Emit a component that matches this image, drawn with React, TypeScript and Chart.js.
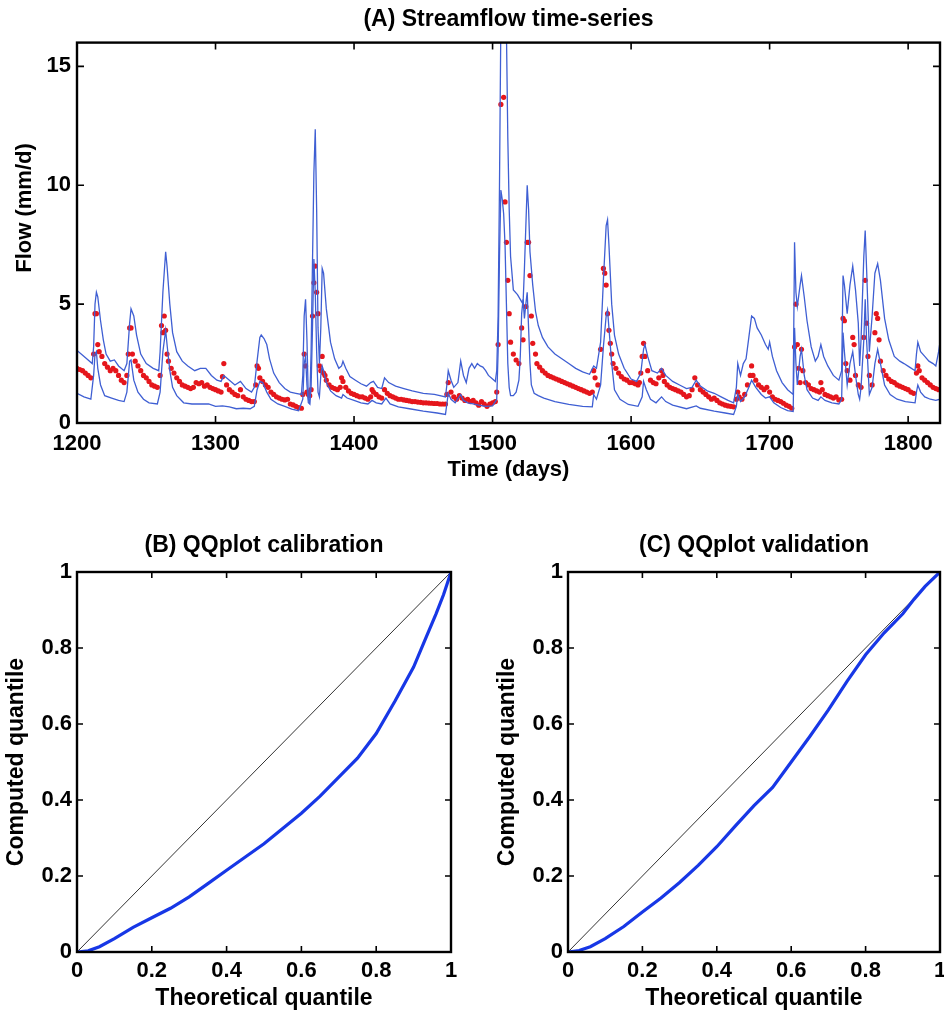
import React, { useEffect, useRef } from 'react';
import { Chart, registerables } from 'chart.js';

Chart.register(...registerables);

const FONT = '"Liberation Sans", Arial, Helvetica, sans-serif';
const BLUE_BAND = '#3f5fd3';
const RED_OBS = '#e5161c';
const BLUE_QQ = '#1737e6';

// ---------- Panel A data ----------
const timeTicks = [1200, 1300, 1400, 1500, 1600, 1700, 1800];
const flowTicks = [0, 5, 10, 15];

// [day, flow mm/d]
const upperBound: [number, number][] = [
  [1200, 3.05], [1203, 2.9], [1207, 2.7], [1211, 2.5], [1212, 3.2], [1213, 5.0], [1214, 5.5], [1215, 5.3], [1217, 4.3], [1219, 3.5],
  [1221, 2.9], [1224, 2.6], [1227, 2.65], [1230, 2.4], [1234, 2.2], [1236, 2.5], [1238, 4.2], [1239, 4.8], [1241, 4.5], [1243, 3.7],
  [1246, 2.9], [1250, 2.5], [1255, 2.3], [1259, 2.2], [1260, 3.0], [1262, 5.5], [1264, 7.2], [1265, 6.6], [1267, 5.0], [1269, 3.8],
  [1272, 3.0], [1276, 2.6], [1280, 2.4], [1285, 2.2], [1289, 2.3], [1293, 2.3], [1297, 2.0], [1301, 1.8], [1304, 1.75], [1306, 2.0],
  [1310, 1.8], [1314, 1.6], [1318, 1.75], [1322, 1.45], [1326, 1.3], [1328, 1.5], [1330, 2.6], [1332, 3.6], [1333, 3.7], [1335, 3.55],
  [1337, 3.3], [1339, 2.7], [1342, 2.1], [1346, 1.7], [1350, 1.45], [1354, 1.3], [1358, 1.25], [1362, 1.2], [1363, 2.0], [1364, 4.5],
  [1365, 5.2], [1366, 3.5], [1367, 1.0], [1368, 0.85], [1369, 3.0], [1371, 10.5], [1372, 12.35], [1373, 9.0], [1374, 4.0], [1375, 2.5],
  [1376, 4.0], [1377, 6.5], [1378, 6.3], [1380, 4.8], [1383, 3.4], [1386, 2.7], [1389, 2.3], [1391, 2.4], [1392, 2.6], [1394, 2.3],
  [1397, 1.95], [1401, 1.8], [1405, 1.65], [1409, 1.55], [1412, 1.7], [1414, 1.75], [1417, 1.5], [1420, 1.45], [1422, 1.9], [1425, 1.7],
  [1430, 1.55], [1436, 1.45], [1442, 1.35], [1450, 1.25], [1458, 1.2], [1466, 1.1], [1467, 1.6], [1468, 2.2], [1470, 1.8], [1472, 1.5],
  [1475, 1.7], [1477, 2.6], [1479, 2.0], [1481, 1.7], [1483, 2.3], [1485, 2.5], [1487, 2.3], [1489, 2.5], [1491, 2.4], [1493, 2.35],
  [1495, 2.2], [1497, 2.0], [1500, 1.85], [1502, 1.75], [1503, 2.2], [1504, 4.5], [1505, 10.0], [1506, 17.0], [1508, 18.0], [1510, 16.5],
  [1511, 12.0], [1512, 9.0], [1513, 7.0], [1515, 5.6], [1518, 5.4], [1520, 5.2], [1522, 5.0], [1523, 6.5], [1525, 10.0], [1526, 9.0],
  [1527, 7.2], [1529, 5.8], [1531, 4.7], [1533, 4.1], [1536, 3.6], [1540, 3.2], [1545, 2.9], [1550, 2.7], [1555, 2.5], [1560, 2.3],
  [1565, 2.15], [1570, 2.05], [1573, 2.4], [1575, 2.3], [1578, 3.4], [1580, 6.0], [1582, 8.3], [1583, 8.55], [1584, 7.5], [1586, 5.0],
  [1588, 3.7], [1591, 2.9], [1595, 2.3], [1600, 1.85], [1604, 1.75], [1607, 2.1], [1609, 3.1], [1610, 3.3], [1612, 2.8], [1615, 2.2],
  [1619, 2.1], [1622, 2.3], [1625, 2.0], [1630, 1.75], [1635, 1.6], [1640, 1.45], [1644, 1.5], [1647, 1.8], [1650, 1.55], [1655, 1.35],
  [1660, 1.25], [1665, 1.1], [1670, 0.95], [1674, 0.85], [1676, 1.5], [1677, 2.5], [1679, 2.0], [1681, 2.5], [1683, 2.7], [1685, 3.6],
  [1687, 4.5], [1689, 4.4], [1691, 4.0], [1694, 3.7], [1697, 3.3], [1699, 3.1], [1700, 3.4], [1702, 2.8], [1705, 2.2], [1709, 1.7],
  [1713, 1.4], [1717, 1.2], [1718, 7.6], [1719, 5.5], [1720, 4.9], [1722, 5.8], [1723, 6.2], [1725, 5.3], [1727, 4.3], [1730, 3.2],
  [1733, 2.6], [1735, 2.8], [1737, 3.3], [1739, 2.8], [1742, 2.4], [1746, 2.0], [1750, 1.8], [1752, 2.2], [1753, 6.2], [1754, 5.8],
  [1756, 4.6], [1758, 5.8], [1760, 6.6], [1762, 5.6], [1764, 4.2], [1765, 2.4], [1766, 3.5], [1768, 7.0], [1769, 8.1], [1770, 6.5],
  [1772, 3.0], [1774, 4.5], [1776, 6.3], [1778, 6.7], [1780, 6.0], [1783, 4.4], [1786, 3.5], [1790, 2.8], [1794, 2.6], [1797, 2.5],
  [1801, 2.35], [1805, 2.2], [1806, 2.9], [1807, 3.4], [1809, 3.0], [1812, 2.8], [1815, 2.6], [1818, 2.5], [1820, 2.4], [1822, 3.0],
  [1823, 3.4],
];

const lowerBound: [number, number][] = [
  [1200, 1.25], [1205, 1.1], [1210, 1.0], [1212, 2.0], [1213, 2.9], [1214, 3.0], [1215, 2.3], [1217, 1.6], [1220, 1.15], [1225, 1.05],
  [1230, 0.95], [1234, 0.9], [1236, 1.3], [1238, 2.6], [1239, 2.65], [1241, 1.8], [1244, 1.3], [1248, 1.0], [1252, 0.85], [1258, 0.8],
  [1260, 1.3], [1262, 3.0], [1264, 3.9], [1265, 3.3], [1267, 2.2], [1269, 1.5], [1272, 1.15], [1277, 0.85], [1283, 0.8], [1290, 0.8],
  [1295, 0.8], [1300, 0.7], [1305, 0.72], [1310, 0.68], [1315, 0.6], [1320, 0.62], [1325, 0.6], [1328, 0.7], [1330, 1.4], [1332, 1.75],
  [1334, 1.7], [1337, 1.3], [1340, 1.0], [1345, 0.8], [1350, 0.7], [1355, 0.58], [1360, 0.52], [1363, 1.0], [1364, 2.5], [1365, 2.8],
  [1366, 1.6], [1367, 0.85], [1368, 0.8], [1369, 1.5], [1370, 4.0], [1371, 6.9], [1372, 5.5], [1373, 3.0], [1374, 1.3], [1375, 1.1],
  [1376, 2.0], [1377, 2.4], [1378, 2.2], [1380, 1.7], [1383, 1.35], [1387, 1.15], [1391, 1.05], [1392, 1.2], [1395, 1.05], [1400, 0.95],
  [1405, 0.85], [1410, 0.8], [1413, 0.95], [1416, 0.85], [1420, 0.8], [1423, 1.05], [1426, 0.8], [1432, 0.68], [1440, 0.6], [1450, 0.5],
  [1460, 0.42], [1466, 0.36], [1467, 0.8], [1468, 1.25], [1470, 1.0], [1473, 0.85], [1477, 1.2], [1479, 0.95], [1482, 0.85], [1486, 0.8],
  [1490, 0.75], [1495, 0.7], [1500, 0.72], [1503, 1.0], [1504, 3.0], [1505, 7.0], [1506, 9.8], [1507, 9.4], [1508, 8.8], [1509, 7.5],
  [1510, 5.0], [1511, 2.5], [1512, 1.5], [1513, 1.15], [1515, 1.15], [1517, 1.3], [1519, 1.8], [1520, 2.8], [1521, 4.6], [1522, 5.2],
  [1523, 4.4], [1524, 5.0], [1525, 5.5], [1526, 4.0], [1527, 2.5], [1528, 1.6], [1530, 1.25], [1533, 1.15], [1537, 1.05], [1545, 0.9],
  [1555, 0.78], [1565, 0.7], [1572, 0.68], [1573, 1.2], [1575, 1.0], [1578, 1.6], [1580, 3.2], [1582, 4.5], [1583, 4.75], [1584, 4.0],
  [1586, 2.5], [1588, 1.4], [1592, 1.0], [1598, 0.78], [1605, 0.7], [1608, 1.1], [1609, 1.75], [1611, 1.4], [1614, 1.0], [1618, 0.85],
  [1622, 1.1], [1625, 0.9], [1630, 0.75], [1640, 0.6], [1647, 0.72], [1650, 0.62], [1660, 0.5], [1668, 0.42], [1674, 0.36], [1676, 0.7],
  [1677, 1.2], [1679, 0.9], [1682, 1.1], [1685, 1.5], [1687, 1.8], [1690, 1.5], [1694, 1.2], [1697, 1.05], [1700, 1.1], [1703, 0.85],
  [1708, 0.65], [1713, 0.52], [1717, 0.48], [1718, 4.0], [1719, 2.5], [1720, 1.6], [1722, 2.8], [1723, 3.1], [1725, 2.0], [1727, 1.4],
  [1731, 1.05], [1735, 0.95], [1737, 1.1], [1740, 0.95], [1745, 0.85], [1750, 0.8], [1752, 1.0], [1753, 3.8], [1754, 3.0], [1756, 1.6],
  [1758, 2.5], [1760, 3.0], [1762, 2.0], [1764, 1.2], [1765, 1.0], [1766, 1.5], [1768, 3.5], [1769, 5.2], [1770, 3.5], [1772, 1.2],
  [1774, 1.5], [1776, 2.5], [1778, 3.1], [1780, 2.5], [1783, 1.6], [1787, 1.2], [1792, 1.0], [1798, 0.9], [1805, 0.85], [1806, 1.3],
  [1807, 1.6], [1809, 1.3], [1812, 1.1], [1816, 1.0], [1820, 0.95], [1823, 1.0],
];

const observedFlow: [number, number][] = [
  [1200, 2.3], [1202, 2.25], [1204, 2.2], [1206, 2.1], [1208, 2.0], [1210, 1.9], [1212, 2.9], [1213, 4.6], [1214, 4.6], [1215, 3.3],
  [1216, 3.0], [1218, 2.8], [1220, 2.5], [1222, 2.35], [1224, 2.2], [1226, 2.3], [1228, 2.2], [1230, 2.0], [1232, 1.8], [1234, 1.7],
  [1236, 2.0], [1237, 2.9], [1238, 4.0], [1239, 4.0], [1240, 2.9], [1242, 2.6], [1244, 2.4], [1246, 2.2], [1248, 2.0], [1250, 1.9],
  [1252, 1.75], [1254, 1.6], [1256, 1.55], [1258, 1.5], [1260, 2.0], [1261, 4.1], [1262, 3.8], [1263, 4.5], [1264, 3.9], [1265, 2.9],
  [1266, 2.6], [1268, 2.3], [1270, 2.1], [1272, 1.9], [1274, 1.75], [1276, 1.6], [1278, 1.55], [1280, 1.5], [1282, 1.45], [1284, 1.5],
  [1286, 1.7], [1288, 1.65], [1290, 1.7], [1292, 1.55], [1294, 1.6], [1296, 1.5], [1298, 1.45], [1300, 1.4], [1302, 1.35], [1304, 1.3],
  [1305, 1.95], [1306, 2.5], [1308, 1.6], [1310, 1.4], [1312, 1.3], [1314, 1.2], [1316, 1.15], [1318, 1.4], [1320, 1.1], [1322, 1.0],
  [1324, 0.95], [1326, 0.9], [1328, 0.9], [1329, 1.6], [1330, 2.4], [1331, 2.3], [1332, 1.9], [1334, 1.75], [1336, 1.6], [1338, 1.5],
  [1340, 1.3], [1342, 1.2], [1344, 1.1], [1346, 1.05], [1348, 1.0], [1350, 0.97], [1352, 1.0], [1354, 0.8], [1356, 0.76], [1358, 0.7],
  [1360, 0.65], [1362, 0.62], [1363, 1.2], [1364, 2.9], [1365, 2.4], [1366, 1.3], [1367, 1.2], [1368, 1.15], [1369, 1.4], [1370, 4.5],
  [1371, 5.9], [1372, 6.6], [1373, 5.5], [1374, 4.6], [1375, 2.4], [1376, 2.2], [1377, 2.8], [1378, 2.1], [1379, 2.0], [1380, 1.8],
  [1382, 1.6], [1384, 1.5], [1386, 1.45], [1388, 1.4], [1390, 1.5], [1391, 1.9], [1392, 1.75], [1394, 1.5], [1396, 1.35], [1398, 1.25],
  [1400, 1.2], [1402, 1.15], [1404, 1.1], [1406, 1.1], [1408, 1.05], [1410, 1.0], [1412, 1.1], [1413, 1.4], [1414, 1.3], [1416, 1.2],
  [1418, 1.1], [1420, 1.05], [1422, 1.4], [1424, 1.25], [1426, 1.15], [1428, 1.1], [1430, 1.05], [1432, 1.0], [1434, 1.0], [1436, 0.97],
  [1438, 0.95], [1440, 0.93], [1442, 0.9], [1444, 0.9], [1446, 0.88], [1448, 0.87], [1450, 0.85], [1452, 0.85], [1454, 0.84], [1456, 0.83],
  [1458, 0.82], [1460, 0.82], [1462, 0.8], [1464, 0.8], [1466, 0.8], [1467, 1.2], [1468, 1.7], [1470, 1.3], [1472, 1.1], [1474, 1.0],
  [1476, 1.15], [1478, 1.05], [1480, 0.95], [1482, 1.0], [1484, 0.9], [1486, 0.95], [1488, 0.85], [1490, 0.75], [1492, 0.9], [1494, 0.8],
  [1496, 0.7], [1498, 0.8], [1500, 0.85], [1502, 0.9], [1503, 1.3], [1504, 3.3], [1506, 13.4], [1508, 13.7], [1509, 9.3], [1510, 7.6],
  [1511, 6.0], [1512, 4.6], [1513, 3.4], [1515, 2.9], [1517, 2.65], [1519, 2.5], [1521, 4.0], [1522, 3.5], [1524, 4.9], [1525, 7.6],
  [1526, 7.6], [1527, 6.2], [1528, 4.5], [1529, 3.35], [1531, 2.9], [1532, 2.5], [1534, 2.35], [1536, 2.2], [1538, 2.1], [1540, 2.0],
  [1542, 1.95], [1544, 1.9], [1546, 1.85], [1548, 1.8], [1550, 1.75], [1552, 1.7], [1554, 1.65], [1556, 1.6], [1558, 1.55], [1560, 1.5],
  [1562, 1.45], [1564, 1.4], [1566, 1.35], [1568, 1.3], [1570, 1.25], [1572, 1.3], [1573, 2.2], [1574, 1.9], [1576, 1.6], [1578, 3.1],
  [1580, 6.5], [1581, 6.3], [1582, 5.8], [1583, 4.6], [1584, 3.9], [1585, 3.35], [1586, 2.9], [1587, 2.5], [1589, 2.3], [1591, 2.1],
  [1593, 1.95], [1595, 1.85], [1597, 1.8], [1599, 1.7], [1601, 1.7], [1603, 1.65], [1605, 1.6], [1606, 1.7], [1607, 2.1], [1608, 2.8],
  [1609, 3.35], [1610, 2.8], [1612, 2.2], [1614, 1.8], [1616, 1.7], [1618, 1.65], [1620, 1.9], [1622, 2.2], [1623, 2.0], [1624, 1.75],
  [1626, 1.6], [1628, 1.5], [1630, 1.45], [1632, 1.4], [1634, 1.35], [1636, 1.3], [1638, 1.2], [1640, 1.1], [1642, 1.15], [1644, 1.4],
  [1646, 1.9], [1648, 1.6], [1650, 1.4], [1652, 1.3], [1654, 1.2], [1656, 1.1], [1658, 1.0], [1660, 1.05], [1662, 0.95], [1664, 0.85],
  [1666, 0.8], [1668, 0.75], [1670, 0.72], [1672, 0.7], [1674, 0.68], [1676, 1.0], [1677, 1.3], [1678, 1.1], [1680, 1.0], [1682, 1.2],
  [1684, 1.6], [1686, 2.0], [1687, 2.4], [1688, 2.0], [1690, 1.8], [1692, 1.6], [1694, 1.5], [1696, 1.4], [1698, 1.5], [1700, 1.3],
  [1702, 1.1], [1704, 1.0], [1706, 0.95], [1708, 0.9], [1710, 0.83], [1712, 0.75], [1714, 0.7], [1716, 0.62], [1718, 3.2], [1719, 5.0],
  [1720, 3.3], [1721, 2.3], [1722, 1.7], [1723, 3.1], [1724, 2.2], [1726, 1.7], [1728, 1.6], [1730, 1.45], [1732, 1.4], [1734, 1.35],
  [1736, 1.3], [1737, 1.7], [1738, 1.4], [1740, 1.2], [1742, 1.15], [1744, 1.1], [1746, 1.05], [1748, 1.1], [1750, 0.97], [1752, 1.0],
  [1753, 4.4], [1754, 4.3], [1755, 2.5], [1756, 2.2], [1758, 1.8], [1760, 3.6], [1761, 3.3], [1762, 2.0], [1764, 1.6], [1766, 1.5],
  [1768, 3.6], [1769, 6.0], [1770, 4.2], [1771, 2.8], [1772, 2.0], [1774, 1.6], [1776, 3.8], [1777, 4.6], [1778, 4.4], [1779, 3.5],
  [1780, 2.6], [1782, 2.2], [1784, 2.0], [1786, 1.85], [1788, 1.75], [1790, 1.7], [1792, 1.6], [1794, 1.55], [1796, 1.5], [1798, 1.45],
  [1800, 1.4], [1802, 1.3], [1804, 1.25], [1806, 2.1], [1807, 2.4], [1808, 2.2], [1810, 1.9], [1812, 1.8], [1814, 1.7], [1816, 1.6],
  [1818, 1.5], [1820, 1.45], [1822, 1.4],
];

// ---------- Panels B & C data ----------
const quantileTicks = [0, 0.2, 0.4, 0.6, 0.8, 1];

// [theoretical quantile, computed quantile]
const qqCalibration: [number, number][] = [
  [0, 0], [0.03, 0.003], [0.06, 0.014], [0.1, 0.035], [0.15, 0.065], [0.2, 0.09], [0.25, 0.115], [0.3, 0.145],
  [0.35, 0.18], [0.4, 0.215], [0.45, 0.25], [0.5, 0.285], [0.55, 0.325], [0.6, 0.365], [0.65, 0.41], [0.7, 0.46],
  [0.75, 0.51], [0.8, 0.575], [0.85, 0.66], [0.9, 0.75], [0.93, 0.82], [0.96, 0.89], [0.98, 0.94], [0.99, 0.97], [1, 1],
];

const qqValidation: [number, number][] = [
  [0, 0], [0.03, 0.004], [0.06, 0.014], [0.1, 0.035], [0.15, 0.067], [0.2, 0.105], [0.25, 0.142], [0.3, 0.183],
  [0.35, 0.228], [0.4, 0.277], [0.45, 0.332], [0.5, 0.385], [0.55, 0.433], [0.6, 0.5], [0.65, 0.567], [0.7, 0.637],
  [0.75, 0.712], [0.8, 0.782], [0.85, 0.84], [0.9, 0.89], [0.93, 0.928], [0.96, 0.962], [1, 1],
];

const identityLine: [number, number][] = [[0, 0], [1, 1]];

const toXY = (arr: [number, number][]) => arr.map(([x, y]) => ({ x, y }));

// ---------- MATLAB-like axes box with inward ticks ----------
const matlabAxes = {
  id: 'matlabAxes',
  afterDatasetsDraw(chart: any, _args: any, opts: any) {
    const { ctx, chartArea, scales } = chart;
    const { left, right, top, bottom } = chartArea;
    const len = opts.tickLength ?? 6;
    ctx.save();
    ctx.strokeStyle = '#000';
    ctx.lineWidth = 1.6;
    ctx.beginPath();
    for (const t of scales.x.ticks) {
      const px = scales.x.getPixelForValue(t.value);
      ctx.moveTo(px, bottom);
      ctx.lineTo(px, bottom - len);
      ctx.moveTo(px, top);
      ctx.lineTo(px, top + len);
    }
    for (const t of scales.y.ticks) {
      const py = scales.y.getPixelForValue(t.value);
      ctx.moveTo(left, py);
      ctx.lineTo(left + len, py);
      ctx.moveTo(right, py);
      ctx.lineTo(right - len, py);
    }
    ctx.stroke();
    ctx.lineWidth = 2.4;
    ctx.strokeRect(left, top, right - left, bottom - top);
    if (opts.yLabel) {
      const { text, x, y, size } = opts.yLabel;
      ctx.translate(x, y);
      ctx.rotate(-Math.PI / 2);
      ctx.fillStyle = '#000';
      ctx.font = `bold ${size}px ${FONT}`;
      ctx.textAlign = 'center';
      ctx.textBaseline = 'middle';
      ctx.fillText(text, 0, 0);
    }
    ctx.restore();
  },
};

const boldFont = (size: number) => ({ family: FONT, size, weight: 'bold' as const });

function fixedTicks(values: number[]) {
  return (scale: any) => {
    scale.ticks = values.map((v) => ({ value: v }));
  };
}

function streamflowConfig(): any {
  return {
    type: 'scatter',
    data: {
      datasets: [
        {
          label: 'Upper bound',
          data: toXY(upperBound),
          showLine: true,
          borderColor: BLUE_BAND,
          borderWidth: 1.3,
          pointRadius: 0,
          tension: 0,
        },
        {
          label: 'Lower bound',
          data: toXY(lowerBound),
          showLine: true,
          borderColor: BLUE_BAND,
          borderWidth: 1.3,
          pointRadius: 0,
          tension: 0,
        },
        {
          label: 'Observed',
          data: toXY(observedFlow),
          showLine: false,
          pointRadius: 2.6,
          pointBorderWidth: 0,
          pointBackgroundColor: RED_OBS,
          backgroundColor: RED_OBS,
        },
      ],
    },
    options: {
      responsive: false,
      animation: false,
      events: [],
      layout: { padding: { left: 0, right: 4, top: 0, bottom: 0 } },
      plugins: {
        legend: { display: false },
        tooltip: { enabled: false },
        title: {
          display: true,
          text: '(A) Streamflow time-series',
          fullSize: false,
          color: '#000',
          font: boldFont(23),
          padding: { top: 6, bottom: 9 },
        },
        matlabAxes: {
          tickLength: 7,
          yLabel: { text: 'Flow (mm/d)', x: 25, y: 208, size: 22 },
        },
      },
      scales: {
        x: {
          type: 'linear',
          min: 1200,
          max: 1823,
          afterBuildTicks: fixedTicks(timeTicks),
          afterFit: (s: any) => {
            s.height = 67;
          },
          grid: { display: false, drawTicks: false },
          border: { display: false },
          ticks: {
            color: '#000',
            font: boldFont(22),
            padding: 8,
            maxRotation: 0,
            autoSkip: false,
            callback: (v: number) => String(v),
          },
          title: {
            display: true,
            text: 'Time (days)',
            color: '#000',
            font: boldFont(22),
            padding: { top: 0, bottom: 7 },
          },
        },
        y: {
          type: 'linear',
          min: 0,
          max: 16,
          afterBuildTicks: fixedTicks(flowTicks),
          afterFit: (s: any) => {
            s.width = 77;
          },
          grid: { display: false, drawTicks: false },
          border: { display: false },
          ticks: {
            color: '#000',
            font: boldFont(22),
            padding: 6,
            autoSkip: false,
            callback: (v: number) => String(v),
          },
        },
      },
    },
    plugins: [matlabAxes],
  };
}

function qqConfig(
  title: string,
  curve: [number, number][],
  yAxisWidth: number,
  yTitlePad: number,
  rightPad: number
): any {
  return {
    type: 'scatter',
    data: {
      datasets: [
        {
          label: 'QQ',
          data: toXY(curve),
          showLine: true,
          borderColor: BLUE_QQ,
          borderWidth: 3.2,
          pointRadius: 0,
          tension: 0,
        },
        {
          label: '1:1',
          data: toXY(identityLine),
          showLine: true,
          borderColor: '#333',
          borderWidth: 1,
          pointRadius: 0,
        },
      ],
    },
    options: {
      responsive: false,
      animation: false,
      events: [],
      layout: { padding: { left: 0, right: rightPad, top: 0, bottom: 0 } },
      plugins: {
        legend: { display: false },
        tooltip: { enabled: false },
        title: {
          display: true,
          text: title,
          fullSize: false,
          color: '#000',
          font: boldFont(23),
          padding: { top: 42, bottom: 12.4 },
        },
        matlabAxes: { tickLength: 6 },
      },
      scales: {
        x: {
          type: 'linear',
          min: 0,
          max: 1,
          afterBuildTicks: fixedTicks(quantileTicks),
          afterFit: (s: any) => {
            s.height = 61;
            s.paddingRight = 0;
          },
          grid: { display: false, drawTicks: false },
          border: { display: false },
          ticks: {
            color: '#000',
            font: boldFont(22),
            padding: 6,
            maxRotation: 0,
            autoSkip: false,
            callback: (v: number) => String(v),
          },
          title: {
            display: true,
            text: 'Theoretical quantile',
            color: '#000',
            font: boldFont(23),
            padding: { top: 0, bottom: 1 },
          },
        },
        y: {
          type: 'linear',
          min: 0,
          max: 1,
          afterBuildTicks: fixedTicks(quantileTicks),
          afterFit: (s: any) => {
            s.width = yAxisWidth;
          },
          grid: { display: false, drawTicks: false },
          border: { display: false },
          ticks: {
            color: '#000',
            font: boldFont(22),
            padding: 5,
            autoSkip: false,
            callback: (v: number) => String(v),
          },
          title: {
            display: true,
            text: 'Computed quantile',
            color: '#000',
            font: boldFont(23),
            padding: { top: yTitlePad, bottom: 0 },
          },
        },
      },
    },
    plugins: [matlabAxes],
  };
}

function ChartCanvas(props: {
  makeConfig: () => any;
  left: number;
  top: number;
  width: number;
  height: number;
}) {
  const ref = useRef<HTMLCanvasElement>(null);
  useEffect(() => {
    const chart = new Chart(ref.current as HTMLCanvasElement, props.makeConfig());
    return () => chart.destroy();
  }, []);
  return (
    <canvas
      ref={ref}
      width={props.width}
      height={props.height}
      style={{
        position: 'absolute',
        left: props.left,
        top: props.top,
        width: props.width,
        height: props.height,
      }}
    />
  );
}

export default function App() {
  return (
    <div
      style={{
        position: 'absolute',
        left: 0,
        top: 0,
        width: 944,
        height: 1013,
        background: '#fff',
        overflow: 'hidden',
      }}
    >
      <ChartCanvas makeConfig={streamflowConfig} left={0} top={0} width={944} height={490} />
      <ChartCanvas
        makeConfig={() => qqConfig('(B) QQplot calibration', qqCalibration, 77, 3, 29)}
        left={0}
        top={490}
        width={480}
        height={523}
      />
      <ChartCanvas
        makeConfig={() => qqConfig('(C) QQplot validation', qqValidation, 88, 14, 4)}
        left={480}
        top={490}
        width={464}
        height={523}
      />
    </div>
  );
}
